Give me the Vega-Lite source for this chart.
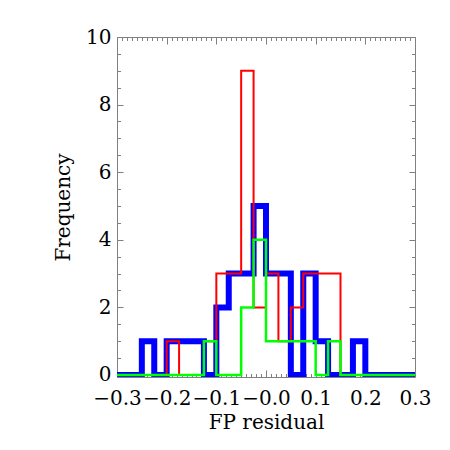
{
  "$schema": "https://vega.github.io/schema/vega-lite/v6.json",
  "width": 298,
  "height": 340,
  "autosize": "none",
  "padding": {"left": 117, "top": 37, "right": 35, "bottom": 73},
  "background": "white",
  "config": {
    "view": {"stroke": null},
    "font": "DejaVu Serif",
    "axis": {
      "grid": false,
      "domainColor": "#808080",
      "domainWidth": 1,
      "tickColor": "#808080",
      "tickWidth": 1,
      "labelColor": "black",
      "titleColor": "black",
      "labelFont": "DejaVu Serif",
      "titleFont": "DejaVu Serif",
      "labelFontSize": 20,
      "titleFontSize": 20,
      "titleFontWeight": "normal",
      "labelFlush": false,
      "labelOverlap": false
    }
  },
  "data": {
    "values": [
      {"x": -0.3, "blue": 0, "red": 0, "green": 0},
      {"x": -0.275, "blue": 0, "red": 0, "green": 0},
      {"x": -0.25, "blue": 1, "red": 0, "green": 0},
      {"x": -0.225, "blue": 0, "red": 0, "green": 0},
      {"x": -0.2, "blue": 1, "red": 1, "green": 0},
      {"x": -0.175, "blue": 1, "red": 0, "green": 0},
      {"x": -0.15, "blue": 1, "red": 0, "green": 0},
      {"x": -0.125, "blue": 0, "red": 1, "green": 1},
      {"x": -0.1, "blue": 2, "red": 3, "green": 0},
      {"x": -0.075, "blue": 3, "red": 3, "green": 0},
      {"x": -0.05, "blue": 3, "red": 9, "green": 2},
      {"x": -0.025, "blue": 5, "red": 2, "green": 4},
      {"x": 0, "blue": 3, "red": 3, "green": 1},
      {"x": 0.025, "blue": 3, "red": 1, "green": 1},
      {"x": 0.05, "blue": 0, "red": 2, "green": 1},
      {"x": 0.075, "blue": 3, "red": 3, "green": 1},
      {"x": 0.1, "blue": 1, "red": 3, "green": 0},
      {"x": 0.125, "blue": 0, "red": 3, "green": 1},
      {"x": 0.15, "blue": 0, "red": 0, "green": 0},
      {"x": 0.175, "blue": 1, "red": 0, "green": 0},
      {"x": 0.2, "blue": 0, "red": 0, "green": 0},
      {"x": 0.225, "blue": 0, "red": 0, "green": 0},
      {"x": 0.25, "blue": 0, "red": 0, "green": 0},
      {"x": 0.275, "blue": 0, "red": 0, "green": 0},
      {"x": 0.3, "blue": 0, "red": 0, "green": 0}
    ]
  },
  "layer": [
    {
      "mark": {"type": "line", "interpolate": "step-after", "color": "#0000ff", "strokeWidth": 6, "clip": true, "strokeJoin": "miter"},
      "encoding": {
        "x": {"field": "x", "type": "quantitative", "scale": {"domain": [-0.3, 0.3], "nice": false, "zero": false},
          "axis": {"orient": "bottom", "values": [-0.3, -0.2, -0.1, 0, 0.1, 0.2, 0.3], "tickSize": -7, "labelPadding": 18, "titlePadding": 4, "title": "FP residual",
            "labelExpr": "datum.value <= 0.0001 ? '−' + format(abs(datum.value), '.1f') : format(datum.value, '.1f')"}},
        "y": {"field": "blue", "type": "quantitative", "scale": {"domain": [-0.06, 10], "nice": false, "zero": false},
          "axis": {"orient": "left", "values": [0, 2, 4, 6, 8, 10], "tickSize": -6, "labelPadding": 12, "titlePadding": 12, "title": "Frequency"}}
      }
    },
    {
      "mark": {"type": "line", "interpolate": "step-after", "color": "#ff0000", "strokeWidth": 2, "clip": true},
      "encoding": {
        "x": {"field": "x", "type": "quantitative",
          "axis": {"orient": "top", "values": [-0.3, -0.2, -0.1, 0, 0.1, 0.2, 0.3], "tickSize": -7, "labels": false, "title": null}},
        "y": {"field": "red", "type": "quantitative",
          "axis": {"orient": "right", "values": [0, 2, 4, 6, 8, 10], "tickSize": -6, "labels": false, "title": null}}
      }
    },
    {
      "mark": {"type": "line", "interpolate": "step-after", "color": "#00ff00", "strokeWidth": 2.5, "clip": true},
      "encoding": {
        "x": {"field": "x", "type": "quantitative",
          "axis": {"orient": "bottom", "values": [-0.29, -0.28, -0.27, -0.26, -0.25, -0.24, -0.23, -0.22, -0.21, -0.19, -0.18, -0.17, -0.16, -0.15, -0.14, -0.13, -0.12, -0.11, -0.09, -0.08, -0.07, -0.06, -0.05, -0.04, -0.03, -0.02, -0.01, 0.01, 0.02, 0.03, 0.04, 0.05, 0.06, 0.07, 0.08, 0.09, 0.11, 0.12, 0.13, 0.14, 0.15, 0.16, 0.17, 0.18, 0.19, 0.21, 0.22, 0.23, 0.24, 0.25, 0.26, 0.27, 0.28, 0.29], "tickSize": -3.5, "labels": false, "domain": false, "title": null}},
        "y": {"field": "green", "type": "quantitative",
          "axis": {"orient": "left", "values": [0.5, 1, 1.5, 2.5, 3, 3.5, 4.5, 5, 5.5, 6.5, 7, 7.5, 8.5, 9, 9.5], "tickSize": -3.5, "labels": false, "domain": false, "title": null}}
      }
    },
    {
      "mark": {"type": "line", "interpolate": "step-after", "color": "#00ff00", "strokeWidth": 2.5, "opacity": 0, "clip": true},
      "encoding": {
        "x": {"field": "x", "type": "quantitative",
          "axis": {"orient": "top", "values": [-0.29, -0.28, -0.27, -0.26, -0.25, -0.24, -0.23, -0.22, -0.21, -0.19, -0.18, -0.17, -0.16, -0.15, -0.14, -0.13, -0.12, -0.11, -0.09, -0.08, -0.07, -0.06, -0.05, -0.04, -0.03, -0.02, -0.01, 0.01, 0.02, 0.03, 0.04, 0.05, 0.06, 0.07, 0.08, 0.09, 0.11, 0.12, 0.13, 0.14, 0.15, 0.16, 0.17, 0.18, 0.19, 0.21, 0.22, 0.23, 0.24, 0.25, 0.26, 0.27, 0.28, 0.29], "tickSize": -3.5, "labels": false, "domain": false, "title": null}},
        "y": {"field": "green", "type": "quantitative",
          "axis": {"orient": "right", "values": [0.5, 1, 1.5, 2.5, 3, 3.5, 4.5, 5, 5.5, 6.5, 7, 7.5, 8.5, 9, 9.5], "tickSize": -3.5, "labels": false, "domain": false, "title": null}}
      }
    }
  ],
  "resolve": {"axis": {"x": "independent", "y": "independent"}}
}
